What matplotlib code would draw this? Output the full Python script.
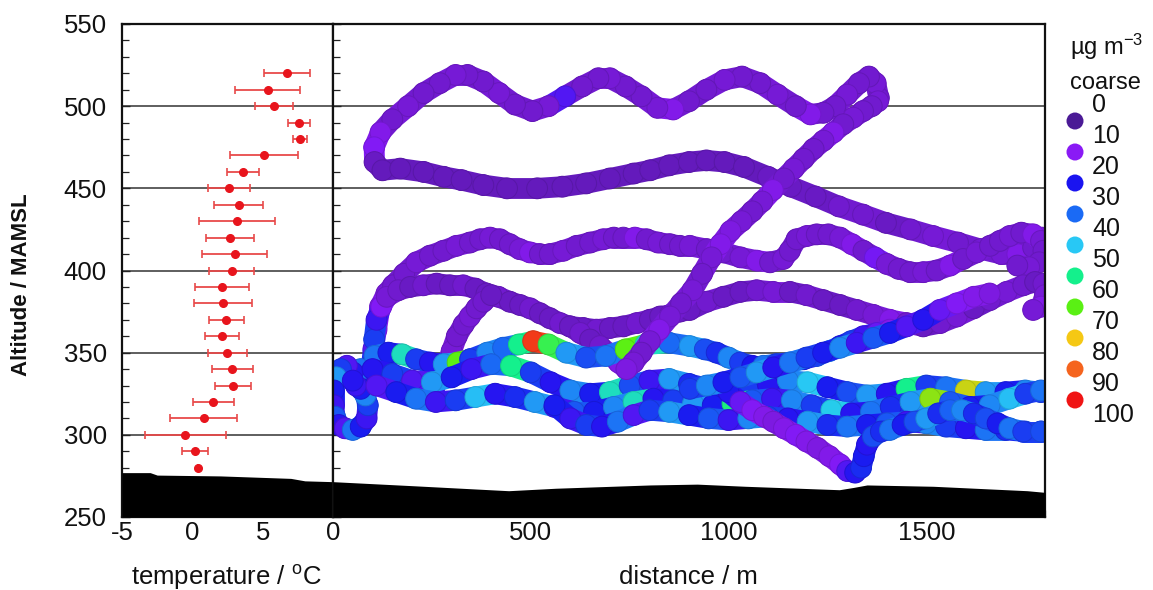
import numpy as np
import matplotlib
matplotlib.use('Agg')
import matplotlib.pyplot as plt
from matplotlib.colors import LinearSegmentedColormap, Normalize
from matplotlib.collections import LineCollection
from matplotlib.ticker import MultipleLocator

plt.rcParams['font.family'] = ['Liberation Sans', 'DejaVu Sans']
plt.rcParams['mathtext.fontset'] = 'custom'
plt.rcParams['mathtext.rm'] = 'Liberation Sans'
plt.rcParams['mathtext.it'] = 'Liberation Sans:italic'
plt.rcParams['axes.unicode_minus'] = False

# ---------------- data ----------------
# temperature profile (left panel)
temp_alt = [520, 510, 500, 490, 480, 470, 460, 450, 440, 430, 420, 410, 400,
            390, 380, 370, 360, 350, 340, 330, 320, 310, 300, 290, 280]
temp_mean = [6.75, 5.35, 5.8, 7.6, 7.65, 5.1, 3.6, 2.6, 3.3, 3.2, 2.7, 3.0, 2.8,
             2.1, 2.2, 2.4, 2.1, 2.5, 2.85, 2.9, 1.5, 0.8, -0.5, 0.2, 0.4]
temp_err = [1.65, 2.3, 1.35, 0.8, 0.5, 2.4, 1.15, 1.5, 1.75, 2.7, 1.7, 2.3, 1.6,
            1.9, 2.05, 1.25, 1.2, 1.4, 1.45, 1.3, 1.45, 2.4, 2.9, 0.9, 0.0]

# terrain
terrain_temp_x = [-5, -3.0, -2.5, 2, 7, 8, 10]
terrain_temp_alt = [277, 277, 275.5, 275, 273.5, 272, 271.5]
terrain_dist = [0, 205, 444, 563, 802, 921, 1042, 1280, 1316, 1350, 1517, 1755, 1800]
terrain_dist_alt = [271.5, 269, 266, 267.5, 269.5, 270, 268.7, 266.6, 268, 269.5, 268.7, 266, 265]

# colour legend
legend_labels = [0, 10, 20, 30, 40, 50, 60, 70, 80, 90, 100]
legend_colors = ['#4b1a96', '#8a1af5', '#1a14f0', '#1a6af5', '#28c8f5',
                 '#14f08c', '#5af014', '#f5c814', '#f5641e', '#f01414']

# flight track strands: distance (m), altitude (m), coarse conc (ug m-3)
upper_loop_dist = [1380, 1372, 1355, 1330, 1300, 1270, 1240, 1207, 1170, 1124,
                   1080, 1034, 990, 944, 900, 860, 820, 780, 740, 700,
                   671, 630, 587, 545, 504, 460, 420, 380, 340, 310,
                   270, 229, 190, 150, 120, 104, 105, 125, 170, 229,
                   280, 325, 380, 440, 516, 580, 640, 700, 760, 802,
                   850, 900, 944, 990, 1039, 1100, 1158, 1220, 1279, 1340,
                   1398, 1460, 1517, 1580, 1637, 1690, 1730, 1770, 1792]
upper_loop_alt = [505, 514, 518, 514, 507, 500, 496, 495, 500, 507,
                  514, 518, 516, 510, 503, 498, 499, 506, 512, 517,
                  517, 512, 506, 500, 497, 501, 508, 515, 519, 519,
                  514, 508, 500, 492, 484, 475, 466, 461, 462, 460,
                  457, 455, 452, 450, 450, 451, 453, 456, 459, 461,
                  464, 466, 467, 466, 463, 457, 451, 445, 439, 434,
                  429, 425, 421, 417, 413, 410, 410, 414, 420]
upper_loop_conc = [11, 12, 11, 11, 12, 11, 11, 14, 11, 12,
                   11, 11, 12, 11, 11, 14, 12, 11, 11, 12,
                   11, 11, 20, 12, 11, 11, 12, 11, 11, 12,
                   11, 11, 12, 11, 14, 16, 10, 9, 9, 9,
                   9, 9, 9, 9, 9, 9, 9, 9, 9, 9,
                   9, 9, 9, 9, 9, 10, 10, 10, 11, 11,
                   10, 11, 12, 11, 11, 12, 14, 11, 12]

diag_dist = [1378, 1362, 1340, 1315, 1290, 1265, 1240, 1215, 1190, 1165,
             1140, 1112, 1085, 1060, 1033, 1005, 980, 957, 933, 909,
             880, 852, 825, 801, 780, 760, 742]
diag_alt = [503, 500, 497, 493, 489, 484, 479, 474, 468, 462,
            456, 449, 442, 436, 430, 424, 416, 408, 398, 388,
            380, 372, 364, 357, 350, 344, 340]
diag_conc = [12, 11, 11, 12, 11, 14, 12, 11, 11, 12,
             11, 14, 12, 11, 12, 13, 14, 12, 11, 12,
             11, 12, 14, 12, 11, 12, 13]

mid1_dist = [97, 102, 110, 119, 135, 152, 180, 211, 245, 279,
             312, 346, 372, 397, 422, 447, 472, 498, 523, 548,
             582, 616, 650, 683, 710, 734, 763, 793, 822, 852,
             877, 902, 945, 987, 1030, 1071, 1105, 1138, 1155, 1172,
             1198, 1223, 1252, 1282, 1312, 1341, 1370, 1400, 1430, 1459,
             1492, 1526, 1560, 1593, 1627, 1661, 1686, 1711, 1740, 1770,
             1790, 1796, 1785, 1760, 1730]
mid1_alt = [342, 352, 364, 378, 386, 391, 398, 405, 409, 412,
            415, 417, 419, 420, 419, 416, 413, 411, 410, 410,
            412, 415, 417, 419, 420, 420, 420, 419, 417, 416,
            415, 415, 413, 411, 408, 406, 405, 407, 412, 419,
            421, 422, 422, 420, 416, 412, 408, 404, 401, 399,
            399, 400, 403, 407, 411, 415, 418, 421, 423, 422,
            418, 412, 405, 402, 403]
mid1_conc = [28, 20, 16, 13, 12, 11, 11, 12, 11, 11,
             12, 11, 11, 12, 11, 11, 12, 14, 11, 11,
             12, 11, 11, 12, 11, 11, 14, 11, 12, 11,
             11, 12, 11, 11, 12, 14, 11, 12, 11, 11,
             12, 11, 11, 12, 14, 11, 17, 12, 11, 11,
             12, 11, 14, 11, 12, 11, 11, 12, 11, 14,
             12, 11, 11, 12, 11]

mid2_dist = [104, 110, 122, 136, 165, 195, 228, 262, 296, 329,
             360, 388, 418, 447, 473, 498, 523, 548, 574, 599,
             633, 666, 700, 734, 768, 801, 827, 852, 877, 902,
             945, 987, 1030, 1071, 1113, 1155, 1197, 1239, 1282, 1324,
             1366, 1408, 1450, 1492, 1535, 1577, 1620, 1661, 1703, 1745,
             1775, 1796, 1800, 1790, 1770]
mid2_alt = [358, 370, 378, 384, 388, 390, 391, 392, 391, 391,
            389, 386, 384, 381, 379, 377, 374, 371, 368, 366,
            365, 364, 365, 366, 368, 370, 372, 373, 375, 376,
            381, 384, 387, 388, 387, 387, 385, 382, 379, 376,
            373, 370, 368, 366, 368, 372, 377, 382, 387, 391,
            393, 392, 385, 378, 376]
mid2_conc = [30, 22, 16, 12, 11, 10, 11, 10, 10, 11,
             10, 10, 11, 10, 10, 11, 10, 10, 11, 10,
             10, 11, 10, 10, 11, 10, 10, 11, 10, 10,
             11, 10, 10, 11, 12, 10, 11, 10, 10, 11,
             12, 14, 11, 10, 11, 12, 10, 11, 12, 11,
             10, 11, 12, 14, 12]

mid3_dist = [599, 625, 650, 675, 700, 722, 742]
mid3_alt = [366, 362, 358, 354, 349, 344, 340]
mid3_conc = [10, 11, 10, 11, 12, 14, 17]

rise_dist = [255, 270, 287, 300, 313, 330, 346, 363, 380, 400]
rise_alt = [328, 335, 342, 351, 360, 367, 372, 377, 381, 385]
rise_conc = [22, 17, 14, 12, 11, 11, 12, 11, 11, 10]

loop_dist = [110, 90, 70, 50, 35, 20, 8, 2, 2, 5, 15, 30, 50, 70, 85, 88, 82, 70, 58, 50]
loop_alt = [336, 340, 340, 338, 342, 340, 335, 327, 318, 311, 306, 304, 303, 305, 310, 318, 324, 328, 330, 333]
loop_conc = [26, 22, 36, 24, 20, 30, 40, 26, 22, 33, 24, 20, 36, 26, 22, 30, 38, 26, 22, 24]

lowA_dist = [347, 390, 430, 470, 506, 545, 590, 640, 690, 740, 790, 850, 902, 940, 970,
             1000, 1029, 1060, 1088, 1120, 1155, 1190, 1223, 1255, 1282, 1310, 1341, 1375, 1408]
lowA_alt = [346, 350, 353, 355, 357, 355, 350, 347, 348, 352, 355, 356, 354, 352, 350,
            347, 344, 342, 342, 343, 344, 346, 348, 351, 354, 357, 360, 362, 364]
lowA_conc = [30, 38, 35, 55, 90, 60, 40, 32, 36, 65, 50, 35, 40, 32, 28,
             38, 30, 25, 36, 30, 40, 26, 32, 38, 26, 30, 22, 18, 14]

lowB_dist = [100, 150, 200, 250, 300, 350, 400, 450, 500, 550, 600, 650, 700, 750, 800, 850, 900, 950,
             1000, 1050, 1100, 1150, 1200, 1250, 1300, 1350, 1400, 1450, 1500, 1550, 1600, 1650, 1700, 1750, 1790]
lowB_alt = [340, 337, 333, 332, 335, 340, 343, 342, 338, 332, 327, 325, 326, 330, 333, 334, 331, 328,
            326, 327, 330, 333, 332, 329, 326, 324, 325, 328, 330, 329, 327, 326, 326, 327, 326]
lowB_conc = [24, 30, 20, 40, 26, 22, 35, 55, 30, 24, 38, 26, 50, 32, 22, 40, 28, 35,
             60, 30, 24, 38, 45, 26, 32, 40, 24, 55, 30, 36, 72, 40, 26, 38, 30]

lowC_dist = [110, 160, 210, 260, 310, 360, 410, 460, 510, 560, 610, 660, 710, 760, 810, 860, 910, 960,
             1010, 1060, 1110, 1160, 1210, 1260, 1310, 1360, 1410, 1460, 1510, 1560, 1610, 1660, 1710, 1750, 1790]
lowC_alt = [330, 326, 322, 320, 321, 323, 325, 323, 320, 317, 314, 314, 317, 320, 322, 321, 319, 318,
            319, 321, 322, 321, 318, 315, 313, 314, 317, 320, 322, 320, 317, 318, 322, 325, 327]
lowC_conc = [20, 26, 36, 22, 30, 44, 24, 28, 40, 22, 33, 26, 38, 50, 24, 30, 40, 26,
             56, 33, 22, 38, 30, 46, 24, 36, 28, 40, 68, 33, 26, 38, 44, 30, 36]

lowD_dist = [560, 600, 640, 680, 720, 760, 800, 850, 900, 950, 1000, 1050, 1100, 1150,
             1200, 1250, 1300, 1350, 1400, 1450, 1500, 1550, 1600, 1650, 1700, 1750, 1790]
lowD_alt = [318, 310, 306, 305, 308, 312, 315, 314, 312, 310, 309, 310, 311, 310,
            308, 306, 305, 306, 307, 308, 307, 305, 304, 303, 303, 302, 302]
lowD_conc = [26, 22, 30, 24, 36, 20, 30, 40, 26, 33, 22, 38, 30, 24,
             40, 28, 36, 26, 33, 22, 38, 30, 24, 36, 28, 33, 30]

dip_dist = [1000, 1030, 1060, 1090, 1113, 1140, 1170, 1197, 1225, 1255, 1282, 1300, 1320, 1335, 1342, 1350,
            1365, 1385, 1408, 1440, 1470, 1500, 1530, 1560, 1590, 1620, 1650, 1680, 1710, 1745, 1790]
dip_alt = [326, 320, 315, 311, 308, 304, 300, 296, 292, 287, 282, 278, 277, 280, 287, 294,
           299, 302, 303, 306, 308, 310, 313, 315, 315, 313, 310, 307, 304, 302, 302]
dip_conc = [24, 18, 16, 14, 13, 14, 16, 14, 13, 14, 16, 20, 24, 28, 26, 24,
            32, 28, 36, 26, 32, 40, 28, 34, 38, 28, 32, 26, 36, 30, 32]

lowE_dist = [902, 945, 987, 1030, 1071, 1113, 1155, 1197, 1239, 1282, 1324, 1366, 1408, 1450, 1492, 1534, 1577, 1620, 1660]
lowE_alt = [328, 330, 332, 335, 338, 341, 344, 347, 350, 353, 356, 359, 362, 366, 370, 376, 380, 384, 386]
lowE_conc = [30, 38, 26, 33, 40, 24, 36, 30, 26, 38, 22, 33, 26, 20, 24, 18, 16, 14, 13]

lowF_dist = [105, 140, 175, 210, 245, 280, 315, 347]
lowF_alt = [348, 350, 349, 346, 344, 343, 344, 346]
lowF_conc = [36, 26, 50, 30, 24, 40, 65, 30]

# ---------------- style ----------------
anchor_vals = [0.0] + [0.05 + 0.1 * i for i in range(10)] + [1.0]
anchor_cols = [legend_colors[0]] + legend_colors + [legend_colors[-1]]
cmap = LinearSegmentedColormap.from_list('coarse', list(zip(anchor_vals, anchor_cols)))
norm = Normalize(0, 100)

W, H = 1153, 590
fig = plt.figure(figsize=(W / 100, H / 100), dpi=100)

def fx(px):
    return px / W

def fy(py):
    return 1 - py / H

ax_t = fig.add_axes([fx(122), fy(517), fx(333) - fx(122), fy(24) - fy(517)])
ax_d = fig.add_axes([fx(333), fy(517), fx(1045) - fx(333), fy(24) - fy(517)])

for ax in (ax_t, ax_d):
    ax.set_ylim(250, 550)
    for yv in (300, 350, 400, 450, 500):
        ax.axhline(yv, color='#333333', lw=1.1, zorder=0.5)
    for sp in ax.spines.values():
        sp.set_linewidth(1.6)
        sp.set_color('#111111')
    ax.yaxis.set_major_locator(MultipleLocator(50))
    ax.yaxis.set_minor_locator(MultipleLocator(10))
    ax.tick_params(axis='both', which='both', direction='in', top=False, right=False,
                   colors='#222222', labelcolor='#111111', labelsize=18.5)
    ax.tick_params(which='major', length=6, width=1.0)
    ax.tick_params(which='minor', length=5, width=0.9)
    ax.tick_params(axis='x', pad=3)

ax_t.tick_params(axis='y', pad=11)
ax_d.tick_params(axis='y', labelleft=False)

ax_t.set_xlim(-5, 10)
ax_t.set_xticks([-5, 0, 5])
ax_t.xaxis.set_minor_locator(MultipleLocator(1))
ax_d.set_xlim(0, 1800)
ax_d.set_xticks([0, 500, 1000, 1500])
ax_d.xaxis.set_minor_locator(MultipleLocator(100))

# terrain
ax_t.fill_between(terrain_temp_x, 250, terrain_temp_alt, color='black', zorder=4, lw=0)
ax_d.fill_between(terrain_dist, 250, terrain_dist_alt, color='black', zorder=4, lw=0)

# temperature profile
ax_t.errorbar(temp_mean, temp_alt, xerr=temp_err, fmt='o', color='#e8141c',
              ecolor='#e84a4a', elinewidth=1.3, capsize=3, capthick=1.2,
              markersize=5.5, zorder=5)

# flight track
def draw_track(ax, d, a, c):
    d = np.asarray(d, float)
    a = np.asarray(a, float)
    c = np.asarray(c, float)
    pts = np.column_stack([d, a]).reshape(-1, 1, 2)
    segs = np.concatenate([pts[:-1], pts[1:]], axis=1)
    lc = LineCollection(segs, colors=cmap(norm(c[:-1])), linewidths=15,
                        capstyle='round', joinstyle='round', zorder=2)
    ax.add_collection(lc)
    face = cmap(norm(c))
    edge = face.copy()
    edge[:, :3] *= 0.88
    ax.scatter(d, a, c=face, s=225, edgecolors=edge, linewidths=0.7, zorder=2)

strands = [
    (upper_loop_dist, upper_loop_alt, upper_loop_conc),
    (mid1_dist, mid1_alt, mid1_conc),
    (mid2_dist, mid2_alt, mid2_conc),
    (mid3_dist, mid3_alt, mid3_conc),
    (rise_dist, rise_alt, rise_conc),
    (loop_dist, loop_alt, loop_conc),
    (lowF_dist, lowF_alt, lowF_conc),
    (lowA_dist, lowA_alt, lowA_conc),
    (lowB_dist, lowB_alt, lowB_conc),
    (lowC_dist, lowC_alt, lowC_conc),
    (lowD_dist, lowD_alt, lowD_conc),
    (dip_dist, dip_alt, dip_conc),
    (lowE_dist, lowE_alt, lowE_conc),
    (diag_dist, diag_alt, diag_conc),
]
for d, a, c in strands:
    draw_track(ax_d, d, a, c)

# labels
fig.text(fx(22), fy(285), 'Altitude / MAMSL', rotation=90, ha='center', va='center',
         fontsize=16, fontweight='bold', color='#111111')
fig.text(fx(226), fy(577), r'temperature / $^{\rm o}$C', ha='center', va='center',
         fontsize=18.5, color='#111111')
fig.text(fx(688), fy(577), 'distance / m', ha='center', va='center',
         fontsize=18.5, color='#111111')

# colour legend
fig.text(fx(1107), fy(47), '\u00b5g m$^{-3}$', ha='center', va='center', fontsize=17, color='#111111')
fig.text(fx(1105), fy(83), 'coarse', ha='center', va='center', fontsize=17, color='#111111')
for i, lab in enumerate(legend_labels):
    fig.text(fx(1092), fy(105 + 31.0 * i), str(lab), ha='left', va='center',
             fontsize=18, color='#111111')
for i, col in enumerate(legend_colors):
    fig.patches.append(matplotlib.patches.Ellipse((fx(1075), fy(121 + 31.0 * i)),
                       17 / W, 17 / H, transform=fig.transFigure, facecolor=col,
                       edgecolor='none', figure=fig))

fig.savefig('out.png', dpi=100)
